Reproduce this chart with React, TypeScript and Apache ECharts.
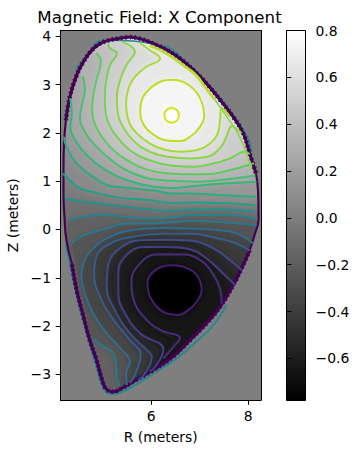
import React, { useEffect, useRef } from "react";
import * as echarts from "echarts";

type P = number[][];

const xTicks = [6, 8];
const yTicks = [-3, -2, -1, 0, 1, 2, 3, 4];
const cbTicks = [-0.6, -0.4, -0.2, 0, 0.2, 0.4, 0.6, 0.8];
const vMin = -0.78;
const vMax = 0.8;

const boundary: P = [[5.56,3.986],[5.77,3.95],[6.04,3.85],[6.32,3.72],[6.59,3.54],[6.87,3.30],[7.14,3.02],[7.42,2.68],[7.69,2.33],[7.90,1.98],[8.03,1.57],[8.16,1.16],[8.20,0.81],[8.21,0.40],[8.21,0.19],[8.14,-0.08],[8.03,-0.43],[7.86,-0.81],[7.69,-1.15],[7.42,-1.60],[7.14,-1.94],[6.80,-2.29],[6.45,-2.63],[6.04,-2.91],[5.63,-3.15],[5.39,-3.29],[5.22,-3.36],[5.09,-3.32],[5.01,-3.19],[4.87,-2.70],[4.74,-2.32],[4.60,-1.80],[4.46,-1.25],[4.36,-0.70],[4.25,-0.22],[4.21,0.26],[4.19,0.74],[4.19,1.23],[4.20,1.78],[4.24,2.26],[4.32,2.74],[4.46,3.19],[4.60,3.47],[4.80,3.74],[5.01,3.88],[5.29,3.95],[5.56,3.986]];
const thickRuns = [[0, 12], [16, 34], [39, 47]];
const thinRuns = [[11, 17], [33, 40]];

const tealLower: P = [[4.24,-0.29],[4.45,-1.32],[4.67,-2.15],[4.87,-2.84],[4.98,-3.22],[5.11,-3.39],[5.25,-3.40],[5.49,-3.32],[6.11,-2.94],[6.52,-2.67],[6.93,-2.32],[7.28,-1.98],[7.55,-1.56]];
const tealUpper: P = [[4.43,3.30],[4.67,3.60],[5.01,3.92],[6.25,3.80],[6.66,3.53],[7.14,3.05],[7.48,2.65],[7.97,1.95],[8.07,1.60]];
const edgeLime: P = [[5.97,3.81],[6.32,3.64],[6.66,3.40],[6.93,3.19],[7.10,2.96],[7.30,2.70]];
const edgeGreen: P = [[7.30,2.70],[7.58,2.30],[7.80,1.96],[7.97,1.55],[8.08,1.20]];

const t1: P = [[6.42,2.52],[6.53,2.47],[6.57,2.37],[6.53,2.26],[6.42,2.21],[6.31,2.26],[6.27,2.37],[6.31,2.47],[6.42,2.52]];
const t2: P = [[6.42,3.10],[6.66,3.055],[6.90,2.88],[7.04,2.64],[7.09,2.365],[7.00,2.12],[6.80,1.92],[6.56,1.83],[6.28,1.85],[6.01,1.99],[5.83,2.19],[5.77,2.47],[5.83,2.745],[6.01,2.95],[6.21,3.07],[6.42,3.10]];
const t3: P = [[5.77,3.86],[5.97,3.71],[6.18,3.54],[5.90,3.37],[5.66,3.16],[5.53,2.92],[5.48,2.61],[5.53,2.26],[5.70,1.99],[5.97,1.78],[6.28,1.65],[6.63,1.61],[6.93,1.64],[7.21,1.78],[7.38,2.02],[7.42,2.30],[7.45,2.52],[7.62,2.33]];
const t4: P = [[5.39,3.89],[5.66,3.68],[5.49,3.41],[5.37,3.13],[5.29,2.75],[5.31,2.40],[5.42,2.12],[5.63,1.84],[5.97,1.61],[6.38,1.50],[6.80,1.47],[7.14,1.50],[7.42,1.69],[7.55,1.92],[7.66,2.14],[7.86,1.99]];
const t5: P = [[5.11,3.855],[5.15,3.75],[5.29,3.65],[5.15,3.41],[5.08,3.13],[5.04,2.75],[5.06,2.40],[5.14,2.15],[5.29,1.92],[5.56,1.64],[5.97,1.43],[6.45,1.32],[6.87,1.30],[7.28,1.365],[7.62,1.47],[7.93,1.61],[8.03,1.56]];
const t6: P = [[4.87,3.65],[4.96,3.48],[4.87,3.10],[4.80,2.75],[4.78,2.45],[4.83,2.20],[4.96,1.95],[5.22,1.64],[5.56,1.40],[5.85,1.26],[6.18,1.18],[6.66,1.145],[7.14,1.145],[7.55,1.21],[8.12,1.37]];
const t7: P = [[4.585,3.17],[4.63,2.92],[4.56,2.54],[4.53,2.33],[4.63,2.02],[4.87,1.71],[5.22,1.40],[5.56,1.19],[5.97,1.05],[6.43,1.01],[7.00,0.99],[7.48,1.03],[8.14,1.12]];
const t8: P = [[4.33,2.72],[4.36,2.40],[4.33,2.12],[4.43,1.85],[4.67,1.54],[5.01,1.26],[5.56,1.0],[6.11,0.88],[6.43,0.86],[6.87,0.90],[7.48,0.95],[8.17,0.99]];
const t9: P = [[4.20,1.92],[4.25,1.71],[4.46,1.37],[4.80,1.09],[5.15,0.90],[5.46,0.87],[6.08,0.80],[6.42,0.745],[6.76,0.745],[7.45,0.71],[8.17,0.68]];
const m1: P = [[4.18,1.16],[4.39,0.95],[4.53,0.85],[4.77,0.78],[5.35,0.66],[5.94,0.61],[6.42,0.55],[6.76,0.56],[7.45,0.55],[8.17,0.50]];
const m2: P = [[4.22,0.64],[4.50,0.59],[4.91,0.54],[5.39,0.48],[5.94,0.415],[6.42,0.39],[6.90,0.415],[7.45,0.415],[8.17,0.37]];
const a: P = [[4.29,0.19],[4.60,0.26],[5.01,0.30],[5.49,0.26],[5.97,0.23],[6.42,0.25],[6.87,0.30],[7.55,0.30],[8.19,0.21]];
const bUpper: P = [[8.17,0.09],[7.35,0.16],[6.80,0.18],[6.42,0.15],[5.97,0.125],[5.49,0.125],[5.01,0.0],[4.60,-0.12],[4.36,-0.29]];
const bLower: P = [[4.77,-2.25],[5.01,-2.42],[5.22,-2.56],[5.27,-2.77],[5.29,-3.05],[5.35,-3.25]];
const c: P = [[8.10,-0.29],[7.76,-0.08],[7.35,-0.01],[6.87,0.02],[6.25,0.03],[5.63,-0.01],[5.15,-0.15],[4.80,-0.39],[4.60,-0.70],[4.56,-0.98],[4.63,-1.32],[4.80,-1.74],[5.08,-2.15],[5.39,-2.49],[5.56,-2.74],[5.48,-2.98],[5.50,-3.22]];
const d: P = [[8.03,-0.44],[7.76,-0.29],[7.35,-0.18],[6.80,-0.09],[6.25,-0.09],[5.63,-0.15],[5.15,-0.29],[4.87,-0.56],[4.82,-0.91],[4.94,-1.39],[5.22,-1.87],[5.56,-2.29],[5.78,-2.60],[5.77,-2.70],[5.66,-3.01],[5.56,-3.18]];
const e: P = [[7.86,-0.84],[7.62,-0.63],[7.28,-0.39],[6.80,-0.23],[6.25,-0.21],[5.77,-0.22],[5.35,-0.39],[5.11,-0.74],[5.08,-1.19],[5.25,-1.67],[5.56,-2.15],[5.97,-2.56],[6.01,-2.63],[5.87,-2.98],[5.73,-3.12]];
const f: P = [[7.73,-1.15],[7.48,-0.91],[7.14,-0.60],[6.80,-0.41],[6.32,-0.36],[5.84,-0.36],[5.46,-0.56],[5.32,-0.91],[5.32,-1.32],[5.46,-1.74],[5.77,-2.15],[6.25,-2.49],[6.11,-2.80],[5.97,-2.94]];
const g: P = [[7.45,-1.53],[7.42,-1.25],[7.28,-0.94],[7.00,-0.63],[6.66,-0.52],[6.11,-0.52],[5.77,-0.70],[5.59,-1.08],[5.63,-1.43],[5.84,-1.80],[6.18,-2.08],[6.59,-2.25],[6.49,-2.39],[6.25,-2.67]];
const h: P = [[6.42,-0.74],[6.66,-0.77],[6.87,-0.875],[7.00,-1.05],[7.04,-1.25],[6.93,-1.50],[6.76,-1.67],[6.56,-1.77],[6.32,-1.74],[6.11,-1.60],[5.96,-1.36],[5.92,-1.12],[6.01,-0.91],[6.21,-0.77],[6.42,-0.74]];

const upperLines = [m1, t9, t8, t7, t6, t5, t4, t3, t2, t1];
const upperLevels = [0.033, 0.117, 0.2, 0.28, 0.365, 0.45, 0.53, 0.615, 0.7, 0.78];
const upperColors = ["#1fa187", "#27ad81", "#35b779", "#46c06f", "#5ec962", "#75d054", "#8ed645", "#a5db36", "#bddf26", "#d2e21b"];
const lowerLines = [m2, a, bUpper, c, d, e, f, g, h];
const lowerLevels = [-0.05, -0.133, -0.216, -0.3, -0.38, -0.465, -0.55, -0.63, -0.715];
const lowerColors = ["#20928c", "#26828e", "#2a788e", "#2f6c8e", "#365c8d", "#3e4c8a", "#433e85", "#472d7b", "#481d6f"];
const halfStep = 0.041;

const outer: P = [[3.5, 5.5], [9, 5.5], [9, -5], [3.5, -5], [3.5, 5.5]];
const gray = (v: number) => {
  const k = Math.max(0, Math.min(255, Math.round((255 * (v - vMin)) / (vMax - vMin))));
  return `rgb(${k},${k},${k})`;
};
const closed = (p: P) => p[0][0] === p[p.length - 1][0] && p[0][1] === p[p.length - 1][1];

type Fill = { pts: P; fill: string; blur: number };
const fills: Fill[] = [];
fills.push({ pts: outer, fill: gray(-0.01), blur: 0 });
upperLines.forEach((l, i) => {
  fills.push({
    pts: closed(l) ? l : [...l, [8.6, 5], [3.9, 5]],
    fill: gray(upperLevels[i] + halfStep),
    blur: 9,
  });
});
lowerLines.forEach((l, i) => {
  const body = l === bUpper ? [...bUpper, ...bLower] : l;
  const last = body[body.length - 1];
  fills.push({
    pts: closed(l) ? l : l === m2 || l === a ? [...l, [8.6, -4.5], [3.9, -4.5]] : [...body, [last[0], -4.5], [8.6, -4.5]],
    fill: gray(lowerLevels[i] - halfStep),
    blur: 9,
  });
});
fills.push({ pts: [...outer, ...[...boundary].reverse()], fill: "#7f7f7f", blur: 0 });

const lineSeries = (pts: P, color: string, width: number, extra: any = {}) => ({
  type: "line",
  xAxisIndex: 0,
  yAxisIndex: 0,
  data: pts,
  symbol: "none",
  smooth: 0.45,
  silent: true,
  z: 5,
  lineStyle: { color, width, ...extra },
});

const TEXT = { fontFamily: "DejaVu Sans", color: "#000", fontSize: 13.9 };

export default function App() {
  const ref = useRef<HTMLDivElement>(null);
  useEffect(() => {
    const chart = echarts.init(ref.current!, undefined, { renderer: "svg" });
    const minus = (v: any) => String(v).replace("-", "\u2212");
    chart.setOption({
      animation: false,
      backgroundColor: "#fff",
      title: {
        text: "Magnetic Field: X Component",
        left: 154.5,
        top: 4,
        textAlign: "center",
        textStyle: { fontFamily: "DejaVu Sans", fontWeight: "normal", fontSize: 16.67, color: "#000" },
      },
      grid: [
        { left: 60.5, top: 30.5, width: 200.5, height: 369.5, outerBoundsMode: "none" },
        { left: 286.5, top: 30.5, width: 19, height: 370, outerBoundsMode: "none" },
      ],
      xAxis: [
        {
          type: "value", gridIndex: 0, min: 4.128, max: 8.262, z: 10,
          name: "R (meters)", nameLocation: "middle", nameGap: 30,
          nameTextStyle: TEXT,
          splitLine: { show: false },
          axisLine: { onZero: false, lineStyle: { color: "#000", width: 1 } },
          axisTick: { length: 4.8, lineStyle: { color: "#000", width: 1 }, customValues: xTicks },
          axisLabel: { ...TEXT, margin: 9, customValues: xTicks, formatter: minus },
        },
        {
          type: "value", gridIndex: 0, position: "top", min: 4.128, max: 8.262, z: 10,
          splitLine: { show: false }, axisTick: { show: false }, axisLabel: { show: false },
          axisLine: { onZero: false, lineStyle: { color: "#000", width: 1 } },
        },
        { type: "value", gridIndex: 1, min: 0, max: 1, show: false },
      ],
      yAxis: [
        {
          type: "value", gridIndex: 0, min: -3.53, max: 4.12, z: 10,
          name: "Z (meters)", nameLocation: "middle", nameRotate: 90, nameGap: 40,
          nameTextStyle: TEXT,
          splitLine: { show: false },
          axisLine: { onZero: false, lineStyle: { color: "#000", width: 1 } },
          axisTick: { length: 4.8, lineStyle: { color: "#000", width: 1 }, customValues: yTicks },
          axisLabel: { ...TEXT, margin: 9.5, customValues: yTicks, formatter: minus },
        },
        {
          type: "value", gridIndex: 0, position: "right", min: -3.53, max: 4.12, z: 10,
          splitLine: { show: false }, axisTick: { show: false }, axisLabel: { show: false },
          axisLine: { onZero: false, lineStyle: { color: "#000", width: 1 } },
        },
        {
          type: "value", gridIndex: 1, position: "right", min: vMin, max: vMax, z: 10,
          splitLine: { show: false },
          axisLine: { show: false },
          axisTick: { length: 4.8, lineStyle: { color: "#000", width: 1 }, customValues: cbTicks },
          axisLabel: { ...TEXT, margin: 10, customValues: cbTicks, formatter: (v: any) => minus(Number(v).toFixed(1)) },
        },
      ],
      series: [
        {
          type: "custom",
          xAxisIndex: 0,
          yAxisIndex: 0,
          clip: true,
          silent: true,
          z: 2,
          data: fills.map((_, i) => [i, 0]),
          renderItem: (_: any, api: any) => {
            const it = fills[api.value(0)];
            return {
              type: "polygon",
              shape: { points: it.pts.map((q) => api.coord(q)) },
              style: it.blur
                ? { fill: it.fill, shadowBlur: it.blur, shadowColor: it.fill }
                : { fill: it.fill },
            };
          },
        },
        lineSeries(tealLower, "#238a8d", 2),
        lineSeries(tealUpper, "#238a8d", 1.5),
        ...thinRuns.map(([s, t]) => lineSeries(boundary.slice(s, t), "#440154", 2.1)),
        ...thickRuns.map(([s, t]) => lineSeries(boundary.slice(s, t), "#440154", 3.1)),
        ...thickRuns.map(([s, t]) => lineSeries(boundary.slice(s, t), "#440154", 4.6, { type: [1.5, 3] })),
        ...[...lowerLines].reverse().map((l, i) =>
          lineSeries(l, lowerColors[lowerColors.length - 1 - i], 2)
        ),
        lineSeries(bLower, "#2a788e", 2),
        ...upperLines.map((l, i) => lineSeries(l, upperColors[i], 2)),
        lineSeries(edgeGreen, "#8ed645", 1.6),
        lineSeries(edgeLime, "#b8de29", 2.8),
        {
          type: "custom",
          xAxisIndex: 2,
          yAxisIndex: 2,
          clip: false,
          silent: true,
          z: 3,
          data: [[0, vMin]],
          renderItem: (_: any, api: any) => {
            const p0 = api.coord([0, vMax]);
            const p1 = api.coord([1, vMin]);
            return {
              type: "rect",
              shape: { x: p0[0], y: p0[1], width: p1[0] - p0[0], height: p1[1] - p0[1] },
              style: {
                fill: new echarts.graphic.LinearGradient(0, 0, 0, 1, [
                  { offset: 0, color: "#fff" },
                  { offset: 1, color: "#000" },
                ]),
                stroke: "#000",
                lineWidth: 1,
              },
            };
          },
        },
      ],
    });
    return () => chart.dispose();
  }, []);
  return <div ref={ref} style={{ position: "fixed", left: 0, top: 0, width: 358, height: 453 }} />;
}
